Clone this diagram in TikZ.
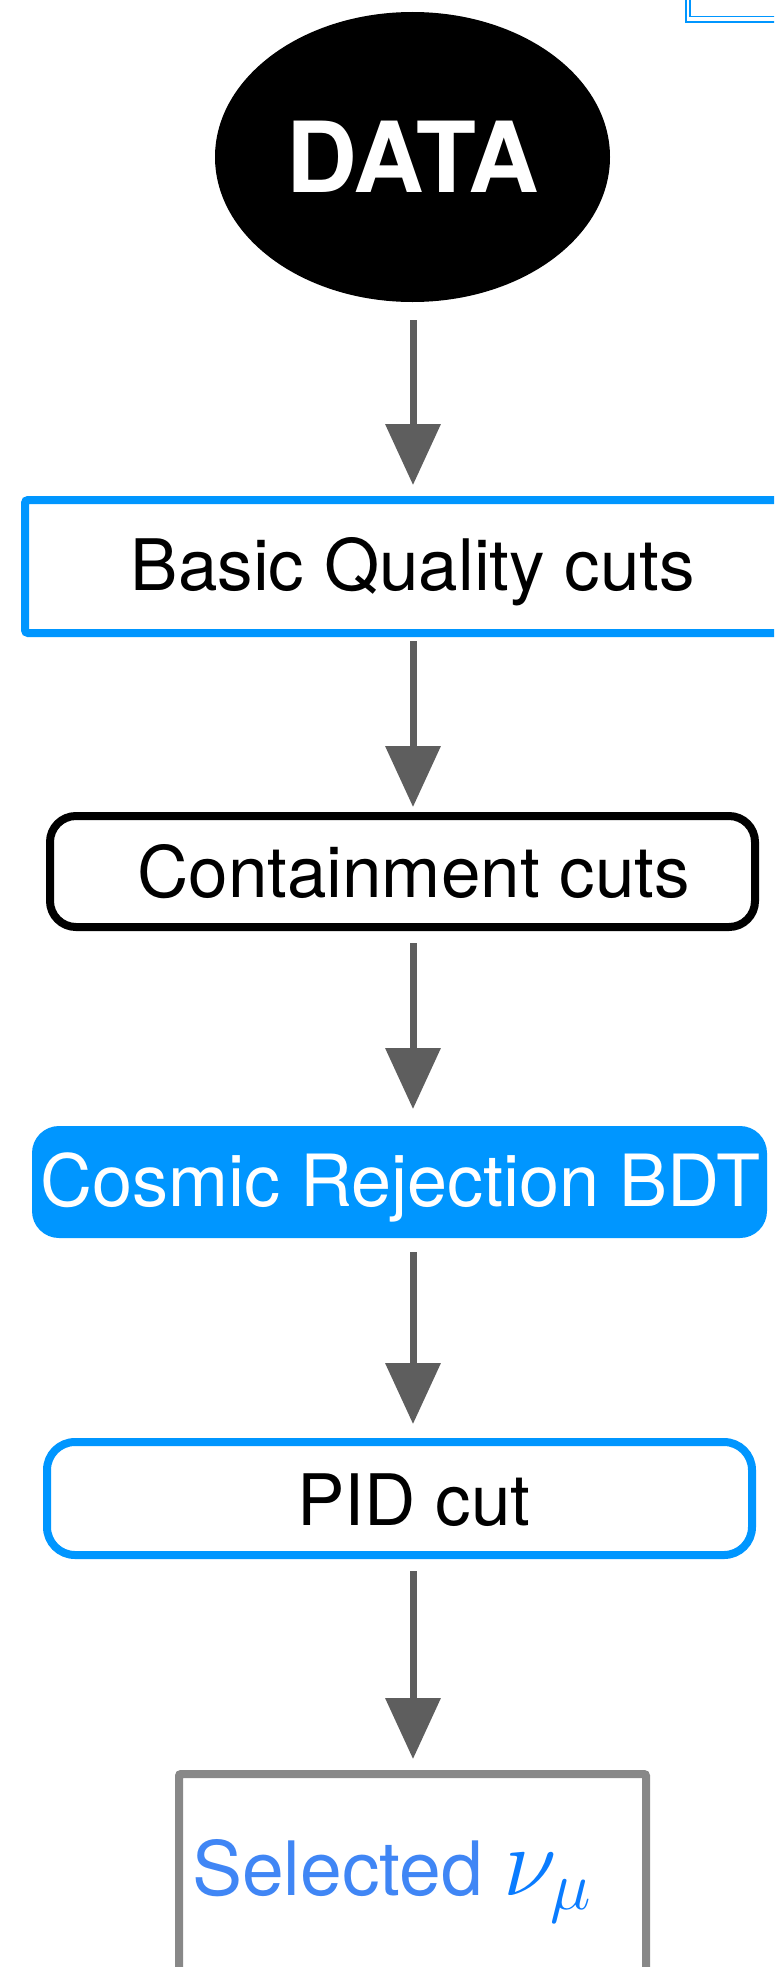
\RequirePackage{fix-cm}
\documentclass[tikz,border=0pt]{standalone}
\usepackage{fontspec}
\setmainfont{TeX Gyre Heros}
\usetikzlibrary{arrows.meta,shapes.geometric}

\definecolor{aqua}{RGB}{0,150,255}
\definecolor{arrowgray}{RGB}{94,94,94}
\definecolor{boxgray}{RGB}{136,136,136}
\definecolor{selblue}{RGB}{64,134,245}
\definecolor{nublue}{RGB}{10,124,255}

\begin{document}
\begin{tikzpicture}[x=1pt, y=-1pt,
  every node/.style={inner sep=0pt, outer sep=0pt},
  flow/.style={draw=arrowgray, line width=7pt, -{Triangle[width=54pt,length=61pt]}},
  caption/.style={anchor=base, font=\fontsize{71}{84}\selectfont},
  sketch/.style={draw=aqua, line width=2pt},
  squarebox/.style={rectangle, draw=aqua, line width=8pt, rounded corners=3pt},
  roundbox/.style={rectangle, line width=8pt, rounded corners=26pt},
  endbox/.style={rectangle, draw=boxgray, line width=8pt, rounded corners=2pt}]

\fill[white] (0,0) rectangle (774,1967);
\useasboundingbox (0,0) rectangle (774,1967);
\clip (0,0) rectangle (774,1967);

% corner of a neighbouring frame, cut by the page edge
\draw[sketch] (685.5,0) -- (685.5,22.5) -- (790,22.5);
\draw[sketch, line width=1.5pt] (690,0) -- (690,16.5) -- (790,16.5);

% start
\node[ellipse, fill=black, minimum width=395pt, minimum height=290pt,
      text=white, font=\fontsize{98}{110}\bfseries, text height=70pt, text depth=0pt]
  (data) at (412.5,157) {DATA};

% selection steps
\node[squarebox, minimum width=775pt, minimum height=133pt] (qual) at (412.5,566.5) {};
\node[caption] (qualtext) at (413,590) {Basic Quality cuts};

\node[roundbox, draw=black, minimum width=705pt, minimum height=111pt] (cont) at (402.5,871.5) {};
\node[caption] (conttext) at (413.5,897) {Containment cuts};

\node[roundbox, fill=aqua, line width=0pt, rounded corners=27pt,
      minimum width=735pt, minimum height=112pt] (cosm) at (399.5,1182) {};
\node[caption, text=white, font=\fontsize{72}{84}\selectfont] (cosmtext) at (400.5,1206) {Cosmic Rejection BDT};

\node[roundbox, draw=aqua, rounded corners=28pt, minimum width=705pt, minimum height=113pt] (pid) at (399.5,1498.5) {};
\node[caption] (pidtext) at (414,1525) {PID cut};

\node[endbox, minimum width=467pt, minimum height=226pt] (sel) at (412.5,1887) {};
\node[anchor=base west, text=selblue, font=\fontsize{75}{90}\selectfont] (seltext) at (192,1895)
  {Selected {\color{nublue}\fontsize{98}{110}\selectfont$\nu_\mu$}};

% flow between the steps
\coordinate (axis) at (413,0);
\draw[flow, shorten <=18pt, shorten >=15pt] (axis |- data.south) -- (axis |- qual.north);
\draw[flow, shorten <=8pt,  shorten >=9pt]  (axis |- qual.south) -- (axis |- cont.north);
\draw[flow, shorten <=16pt, shorten >=17pt] (axis |- cont.south) -- (axis |- cosm.north);
\draw[flow, shorten <=14pt, shorten >=18pt] (axis |- cosm.south) -- (axis |- pid.north);
\draw[flow, shorten <=16pt, shorten >=15pt] (axis |- pid.south)  -- (axis |- sel.north);
\end{tikzpicture}
\end{document}
